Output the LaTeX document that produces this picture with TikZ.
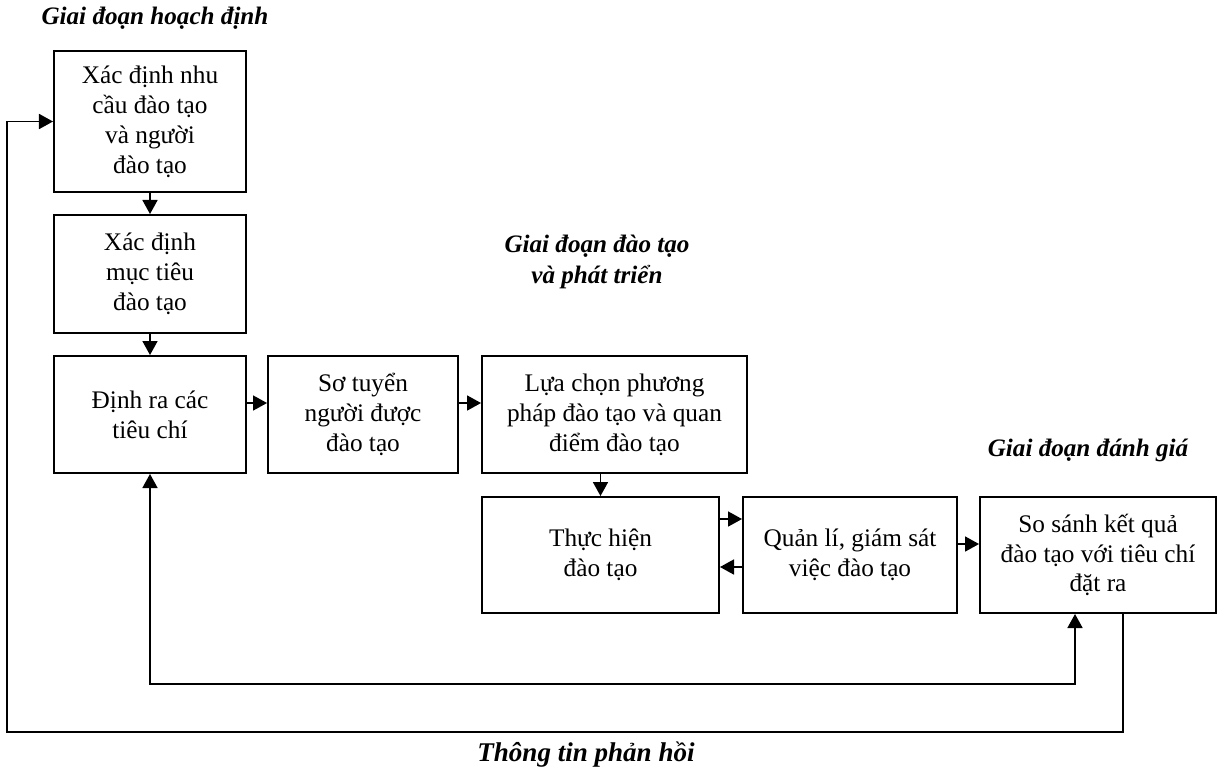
\documentclass[tikz,border=0pt]{standalone}
\usepackage{fontspec}
\setmainfont{Liberation Serif}
\usepackage{tikz}
\usetikzlibrary{positioning, arrows.meta}

\tikzset{
  box/.style={draw, line width=1.1pt, align=center, inner sep=0pt,
    font=\fontsize{14.4}{17}\selectfont},
  stage/.style={align=center, font=\fontsize{14.3}{18}\selectfont\bfseries\itshape},
  arr/.style={-{Triangle[length=8pt,width=8.5pt]}, line width=1.1pt},
}

\begin{document}
\begin{tikzpicture}[x=0.02cm, y=-0.02cm]
    \useasboundingbox (0,0) rectangle (1220,772);

    % Stage labels
    \node[stage] (lplan) at (155,18) {Giai đoạn hoạch định};
    \node[stage] (ltrain) at (597,262) {Giai đoạn đào tạo\\và phát triển};
    \node[stage] (leval) at (1088,450) {Giai đoạn đánh giá};
    \node[stage, font=\fontsize{15.4}{18}\selectfont\bfseries\itshape] (lfeed) at (586,755) {Thông tin phản hồi};

    % Boxes
    \node[box, minimum width=3.84cm, minimum height=2.82cm] (b1) at (150,121.5) {Xác định nhu\\cầu đào tạo\\ và người\\đào tạo};
    \node[box, minimum width=3.84cm, minimum height=2.36cm] (b2) at (150,274) {Xác định\\mục tiêu\\đào tạo};
    \node[box, minimum width=3.84cm, minimum height=2.34cm] (b3) at (150,414.5) {Định ra các\\tiêu chí};
    \node[box, minimum width=3.8cm, minimum height=2.34cm] (b4) at (363,414.5) {Sơ tuyển\\người được\\đào tạo};
    \node[box, minimum width=5.3cm, minimum height=2.34cm] (b5) at (614.5,414.5) {Lựa chọn phương\\pháp đào tạo và quan\\điểm đào tạo};
    \node[box, minimum width=4.74cm, minimum height=2.32cm] (b6) at (600.5,555) {Thực hiện\\đào tạo};
    \node[box, minimum width=4.28cm, minimum height=2.32cm] (b7) at (850,555) {Quản lí, giám sát\\việc đào tạo};
    \node[box, minimum width=4.72cm, minimum height=2.32cm] (b8) at (1098,555) {So sánh kết quả\\đào tạo với tiêu chí\\đặt ra};

    % Arrows
    \draw[arr] (b1) -- (b2);
    \draw[arr] (b2) -- (b3);
    \draw[arr] ([yshift=0.23cm]b3.east) -- ([yshift=0.23cm]b4.west);
    \draw[arr] ([yshift=0.23cm]b4.east) -- ([yshift=0.23cm]b5.west);
    \draw[arr] (b5.south -| b6.north) -- (b6.north);
    \draw[arr] ([yshift=0.72cm]b6.east) -- ([yshift=0.72cm]b7.west);
    \draw[arr] ([yshift=-0.24cm]b7.west) -- ([yshift=-0.24cm]b6.east);
    \draw[arr] ([yshift=0.22cm]b7.east) -- ([yshift=0.22cm]b8.west);

    % Feedback loops
    \draw[arr, {Triangle[length=8pt,width=8.5pt]}-{Triangle[length=8pt,width=8.5pt]}]
      (b3.south) -- (b3.south |- 0,684) -| ([xshift=-0.46cm]b8.south);
    \coordinate (fbcorner) at (7,732);
    \draw[arr] ([xshift=0.5cm]b8.south) |- (fbcorner) |- (b1.west);

\end{tikzpicture}
\end{document}
